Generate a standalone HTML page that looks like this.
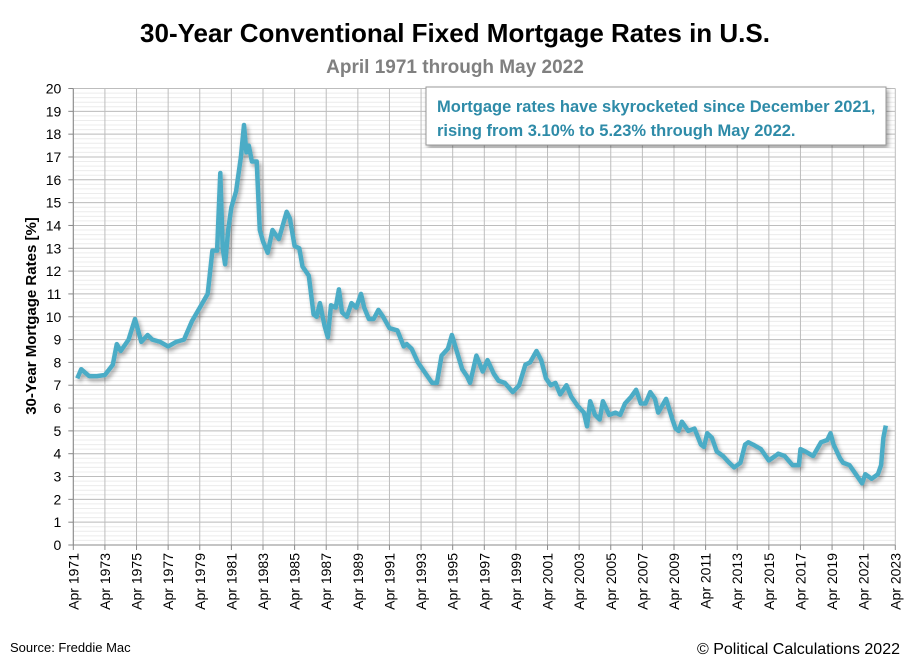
<!DOCTYPE html>
<html><head><meta charset="utf-8"><style>
body{margin:0;background:#fff;font-family:"Liberation Sans",sans-serif}
</style></head><body>
<svg width="910" height="662" xmlns="http://www.w3.org/2000/svg">
<defs><filter id="sh" x="-5%" y="-5%" width="110%" height="110%"><feDropShadow dx="2" dy="3" stdDeviation="2" flood-color="#000" flood-opacity="0.35"/></filter></defs>
<text x="455" y="42" text-anchor="middle" font-size="26" font-weight="bold">30-Year Conventional Fixed Mortgage Rates in U.S.</text>
<text x="455" y="73" text-anchor="middle" font-size="19" font-weight="bold" fill="#808080">April 1971 through May 2022</text>
<g id="grid"></g>
<g id="axes"></g>
<path id="line" fill="none" stroke="#4BACC6" stroke-width="4.5" stroke-linejoin="round" filter="url(#sh)"/>
<text transform="translate(36,316) rotate(-90)" text-anchor="middle" font-size="15" font-weight="bold">30-Year Mortgage Rates [%]</text>
<g>
<rect x="426" y="87" width="460" height="58" fill="#fff" stroke="#999" filter="url(#sh)"/>
<text x="437" y="112" font-size="16.5" font-weight="bold" fill="#2E8BA8">Mortgage rates have skyrocketed since December 2021,</text>
<text x="437" y="136" font-size="16.5" font-weight="bold" fill="#2E8BA8">rising from 3.10% to 5.23% through May 2022.</text>
</g>
<text x="10" y="652" font-size="13">Source: Freddie Mac</text>
<text x="900" y="654" text-anchor="end" font-size="16">© Political Calculations 2022</text>
</svg>
<script>
const yTicks=[0,1,2,3,4,5,6,7,8,9,10,11,12,13,14,15,16,17,18,19,20];
const xTickYears=[1971,1973,1975,1977,1979,1981,1983,1985,1987,1989,1991,1993,1995,1997,1999,2001,2003,2005,2007,2009,2011,2013,2015,2017,2019,2021,2023];
const years=[1971.25,1971.5,1972,1972.5,1973,1973.5,1973.75,1974,1974.5,1974.9,1975.1,1975.3,1975.7,1976,1976.5,1977,1977.5,1978,1978.5,1979,1979.5,1979.8,1980.1,1980.3,1980.45,1980.6,1980.8,1981,1981.3,1981.6,1981.8,1981.95,1982.1,1982.3,1982.6,1982.8,1983,1983.3,1983.6,1984,1984.5,1984.7,1985,1985.3,1985.5,1985.9,1986.2,1986.4,1986.6,1986.9,1987.1,1987.3,1987.6,1987.8,1988,1988.3,1988.6,1988.9,1989.2,1989.4,1989.7,1990,1990.3,1990.6,1991,1991.5,1991.9,1992.1,1992.4,1992.8,1993.2,1993.7,1994,1994.3,1994.7,1994.95,1995.3,1995.6,1995.9,1996.1,1996.5,1996.9,1997.2,1997.6,1997.9,1998.3,1998.8,1999.2,1999.6,1999.9,2000.3,2000.6,2000.9,2001.2,2001.5,2001.8,2002.2,2002.5,2002.9,2003.3,2003.5,2003.7,2004,2004.3,2004.5,2004.9,2005.3,2005.6,2005.9,2006.3,2006.6,2006.9,2007.2,2007.5,2007.8,2008,2008.5,2008.9,2009.1,2009.3,2009.5,2009.9,2010.3,2010.7,2010.9,2011.1,2011.4,2011.7,2012.1,2012.5,2012.8,2013.2,2013.5,2013.7,2014,2014.5,2015,2015.4,2015.6,2016,2016.5,2016.9,2017,2017.3,2017.8,2018.3,2018.7,2018.9,2019.1,2019.5,2019.7,2020.1,2020.5,2020.9,2021.1,2021.5,2021.9,2022.1,2022.25,2022.4];
const rates=[7.3,7.7,7.4,7.4,7.45,7.9,8.8,8.5,9.0,9.9,9.4,8.9,9.2,9.0,8.9,8.7,8.9,9.0,9.8,10.4,11.0,12.9,12.9,16.3,13.0,12.3,13.8,14.8,15.5,17.0,18.4,17.2,17.5,16.8,16.8,13.8,13.3,12.8,13.8,13.4,14.6,14.3,13.1,13.0,12.2,11.8,10.1,10.0,10.6,9.6,9.1,10.5,10.4,11.2,10.2,10.0,10.6,10.4,11.0,10.4,9.9,9.9,10.3,10.0,9.5,9.4,8.7,8.8,8.6,8.0,7.6,7.1,7.1,8.3,8.6,9.2,8.4,7.7,7.4,7.1,8.3,7.6,8.1,7.5,7.2,7.1,6.7,7.0,7.9,8.0,8.5,8.1,7.3,7.0,7.1,6.6,7.0,6.5,6.1,5.8,5.2,6.3,5.7,5.5,6.3,5.7,5.8,5.7,6.2,6.5,6.8,6.2,6.2,6.7,6.4,5.8,6.4,5.5,5.1,5.0,5.4,5.0,5.1,4.4,4.3,4.9,4.7,4.1,3.9,3.6,3.4,3.6,4.4,4.5,4.4,4.2,3.7,3.9,4.0,3.9,3.5,3.5,4.2,4.1,3.9,4.5,4.6,4.9,4.4,3.8,3.6,3.5,3.1,2.7,3.1,2.9,3.1,3.5,4.7,5.23];
const X0=73.3,X1=895.3,Y0=545,Y1=88.5;
const xs=y=>X0+(y-1971)/(2023-1971)*(X1-X0);
const ys=v=>Y0-v/20*(Y0-Y1);
const NS="http://www.w3.org/2000/svg";
function mk(p,t,a,txt){const e=document.createElementNS(NS,t);for(const k in a)e.setAttribute(k,a[k]);if(txt!==undefined)e.textContent=txt;p.appendChild(e);return e;}
const grid=document.getElementById('grid'),axes=document.getElementById('axes');
for(let v=0;v<20;v+=0.2){const y=ys(v);mk(grid,'line',{x1:X0,x2:X1,y1:y,y2:y,stroke:'#ececec','stroke-width':1});}
yTicks.forEach(v=>{const y=ys(v);
const l=mk(grid,'line',{x1:X0,x2:X1,y1:y,y2:y,stroke:'#bdbdbd','stroke-width':1});

mk(axes,'line',{x1:X0-5,x2:X0,y1:y,y2:y,stroke:'#888'});
const t=mk(axes,'text',{x:X0-12,y:y+5,'text-anchor':'end','font-size':14},String(v));
});
xTickYears.forEach(yr=>{const x=xs(yr);
const l=mk(grid,'line',{x1:x,x2:x,y1:Y1,y2:Y0,stroke:'#bdbdbd','stroke-width':1});

mk(axes,'line',{x1:x,x2:x,y1:Y0,y2:Y0+5,stroke:'#888'});
const t=mk(axes,'text',{transform:`translate(${x+5},${Y0+8}) rotate(-90)`,'text-anchor':'end','font-size':14},'Apr '+yr);
});
mk(axes,'line',{x1:X0,x2:X0,y1:Y1,y2:Y0,stroke:'#888'});
mk(axes,'line',{x1:X0,x2:X1,y1:Y0,y2:Y0,stroke:'#888'});
document.getElementById('line').setAttribute('d',years.map((y,i)=>(i?'L':'M')+xs(y).toFixed(1)+','+ys(rates[i]).toFixed(1)).join(''));
</script>
</body></html>
